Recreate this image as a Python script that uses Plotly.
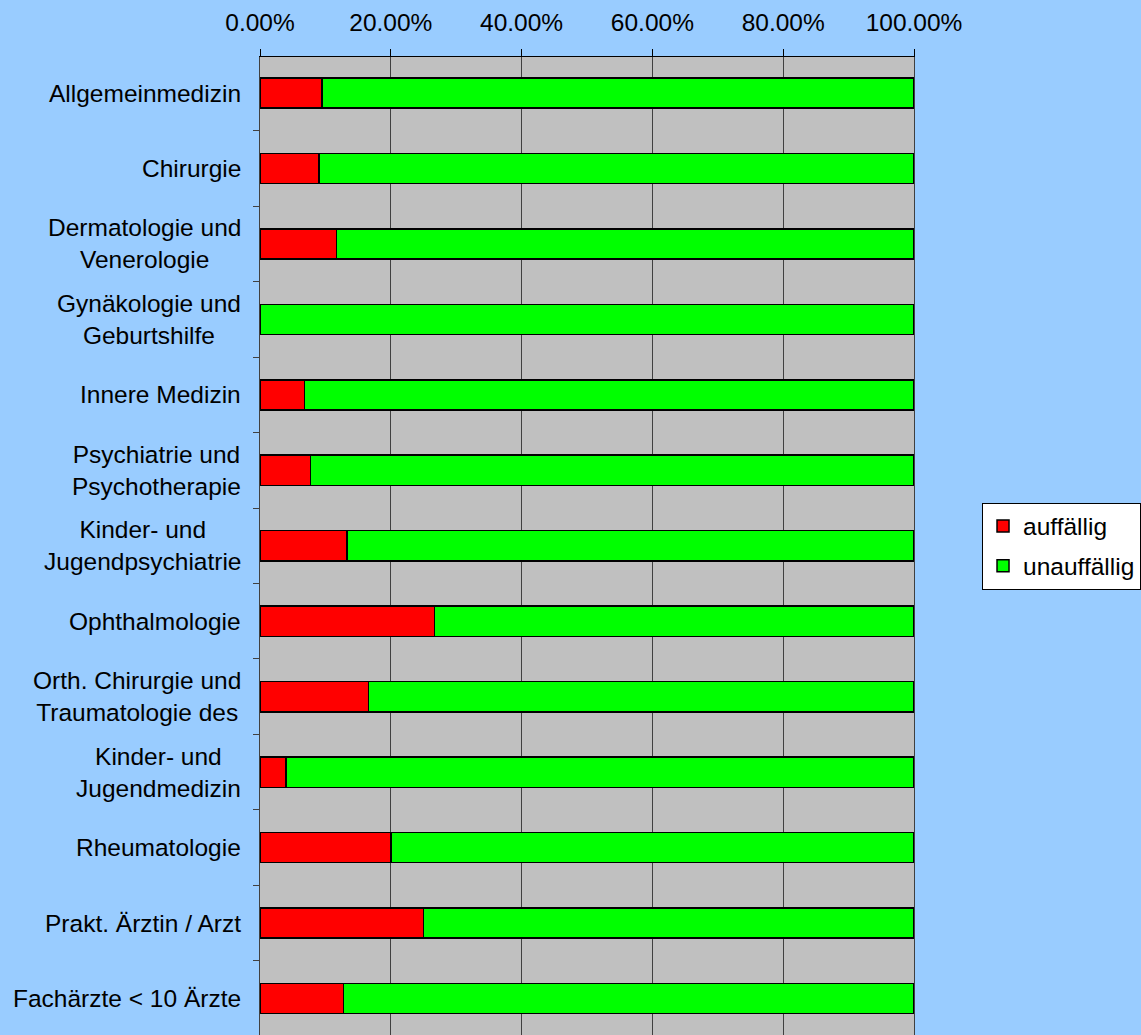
import plotly.graph_objects as go

categories = [
    "Allgemeinmedizin",
    "Chirurgie",
    "Dermatologie und<br>Venerologie",
    "Gynäkologie und<br>Geburtshilfe",
    "Innere Medizin",
    "Psychiatrie und<br>Psychotherapie",
    "Kinder- und<br>Jugendpsychiatrie",
    "Ophthalmologie",
    "Orth. Chirurgie und<br>Traumatologie des",
    "Kinder- und<br>Jugendmedizin",
    "Rheumatologie",
    "Prakt. Ärztin / Arzt",
    "Fachärzte < 10 Ärzte",
]
auffaellig = [0.095, 0.090, 0.117, 0.0, 0.068, 0.077, 0.133, 0.267, 0.166, 0.040, 0.200, 0.250, 0.128]
unauffaellig = [0.905, 0.910, 0.883, 1.0, 0.932, 0.923, 0.867, 0.733, 0.834, 0.960, 0.800, 0.750, 0.872]
series_names = ["auffällig", "unauffällig"]
tick_vals = [0, 0.2, 0.4, 0.6, 0.8, 1.0]

FONT = "Liberation Sans, Arial, sans-serif"
FS = 24.5
ids = list(range(len(categories)))

fig = go.Figure()
for name, vals, col in [(series_names[0], auffaellig, "#FF0000"), (series_names[1], unauffaellig, "#00FF00")]:
    fig.add_trace(go.Bar(
        y=ids, x=vals, name=name, orientation="h",
        marker=dict(color=col, line=dict(color="black", width=1.5)),
        legendgroup=name,
    ))

annotations = []
for i, c in enumerate(categories):
    annotations.append(dict(
        x=0, xref="paper", y=i, yref="y", text=c, showarrow=False,
        xanchor="right", yanchor="middle", align="center", xshift=-17,
        font=dict(family=FONT, size=FS, color="black"),
    ))

fig.update_layout(
    width=1141, height=1035,
    margin=dict(l=260, r=227, t=57, b=0, autoexpand=False),
    paper_bgcolor="#99CCFF", plot_bgcolor="#C0C0C0",
    barmode="stack", bargap=0.6,
    font=dict(family=FONT, size=FS, color="black"),
    showlegend=True,
    legend=dict(
        x=1.104, xanchor="left", y=0.5, yanchor="middle",
        bgcolor="white", bordercolor="black", borderwidth=1,
        traceorder="grouped", tracegroupgap=5,
        font=dict(family=FONT, size=FS, color="black"),
    ),
    annotations=annotations,
)
fig.update_xaxes(
    side="top", range=[0, 1], tickvals=tick_vals, tickformat=".2%",
    showgrid=True, gridcolor="#404040", gridwidth=1,
    ticks="outside", ticklen=7, tickcolor="black", ticklabelstandoff=8,
    showline=True, linecolor="black", linewidth=1, mirror=True,
    zeroline=False, tickfont=dict(family=FONT, size=FS, color="black"),
)
fig.update_yaxes(
    type="linear", range=[12.483, -0.477],
    tickvals=[i + 0.5 for i in range(-1, len(categories))],
    showticklabels=False, showgrid=False, zeroline=False,
    ticks="outside", ticklen=6, tickcolor="#404040",
    showline=True, linecolor="#404040", linewidth=1, mirror=True,
)

fig.write_html(
    "out.html",
    config={"displayModeBar": False},
    post_script="document.body.style.margin='0';document.body.style.padding='0';document.body.style.overflow='hidden';",
)
